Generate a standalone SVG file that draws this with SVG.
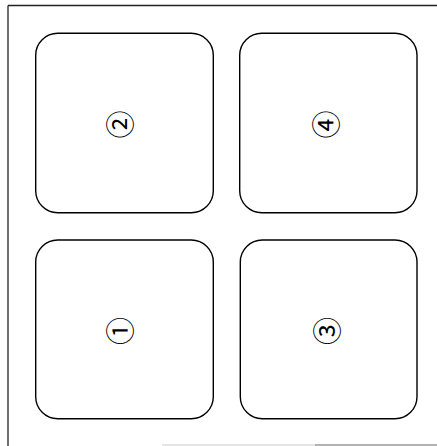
<svg xmlns="http://www.w3.org/2000/svg" width="437" height="446" viewBox="0 0 437 446">
<style>
.box{fill:#fff;stroke:#000;stroke-width:1.4}
.frame{stroke:#222;stroke-width:1.3;fill:none}
.lbl{font-family:"Liberation Serif","Noto Sans CJK JP",serif;font-size:28px;fill:#000;text-anchor:middle;dominant-baseline:central}
</style>
<rect width="437" height="446" fill="#fff"/>
<g id="frame">
<line class="frame" x1="8" y1="5.5" x2="8" y2="446"/>
<line class="frame" x1="8" y1="5.5" x2="437" y2="5.5"/>
<line x1="162" y1="445" x2="315" y2="445" stroke="#ccc" stroke-width="1.2"/>
<line x1="315" y1="445" x2="437" y2="445" stroke="#666" stroke-width="1.2"/>
</g>
<g id="node2"><rect class="box" x="35.7" y="33.3" width="177.6" height="179.4" rx="22"/><text class="lbl" transform="translate(121.5,124.5) rotate(-90)">②</text></g>
<g id="node4"><rect class="box" x="239.7" y="33.3" width="177.3" height="179.4" rx="22"/><text class="lbl" transform="translate(327,124.5) rotate(-90)">④</text></g>
<g id="node1"><rect class="box" x="35.7" y="240" width="177.6" height="178.7" rx="22"/><text class="lbl" transform="translate(121.5,331) rotate(-90)">①</text></g>
<g id="node3"><rect class="box" x="240.3" y="240" width="176.7" height="178.7" rx="22"/><text class="lbl" transform="translate(328,331) rotate(-90)">③</text></g>
<g id="connectors"/>
</svg>
